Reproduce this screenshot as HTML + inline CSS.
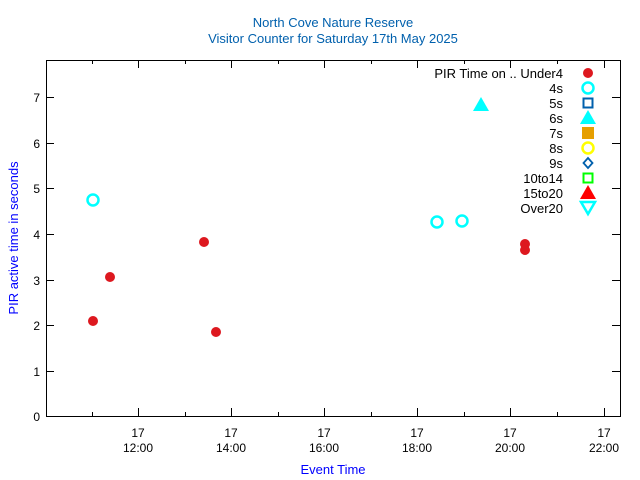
<!DOCTYPE html>
<html><head><style>body{margin:0;background:#fff}svg{display:block}</style></head><body>
<svg width="640" height="480" xmlns="http://www.w3.org/2000/svg" font-family="Liberation Sans, sans-serif" font-size="12">
<rect width="640" height="480" fill="#fff"/>
<text x="333" y="27" text-anchor="middle" fill="#0060ad" font-size="13">North Cove Nature Reserve</text>
<text x="333" y="43" text-anchor="middle" fill="#0060ad" font-size="13">Visitor Counter for Saturday 17th May 2025</text>
<rect x="46.5" y="60.5" width="574" height="356" fill="none" stroke="#000" stroke-width="1"/>
<g stroke="#000" stroke-width="1">
<path d="M46 371.5h8M46 325.5h8M46 280.5h8M46 234.5h8M46 188.5h8M46 143.5h8M46 97.5h8"/>
<path d="M620 371.5h-8M620 325.5h-8M620 280.5h-8M620 234.5h-8M620 188.5h-8M620 143.5h-8M620 97.5h-8"/>
<path d="M138.5 416v-8M231.5 416v-8M324.5 416v-8M417.5 416v-8M510.5 416v-8M604.5 416v-8"/>
<path d="M92.5 416v-4M185.5 416v-4M278.5 416v-4M371.5 416v-4M464.5 416v-4M557.5 416v-4"/>
<path d="M138.5 60v8M231.5 60v8M324.5 60v8M417.5 60v8M510.5 60v8M604.5 60v8"/>
<path d="M92.5 60v4M185.5 60v4M278.5 60v4M371.5 60v4M464.5 60v4M557.5 60v4"/>
</g>
<g text-anchor="end" fill="#000">
<text x="40" y="421">0</text><text x="40" y="376">1</text><text x="40" y="330">2</text><text x="40" y="285">3</text><text x="40" y="239">4</text><text x="40" y="193">5</text><text x="40" y="148">6</text><text x="40" y="102">7</text>
</g>
<g text-anchor="middle" fill="#000">
<text x="138" y="437">17</text><text x="138" y="452">12:00</text>
<text x="231" y="437">17</text><text x="231" y="452">14:00</text>
<text x="324" y="437">17</text><text x="324" y="452">16:00</text>
<text x="417" y="437">17</text><text x="417" y="452">18:00</text>
<text x="510" y="437">17</text><text x="510" y="452">20:00</text>
<text x="604" y="437">17</text><text x="604" y="452">22:00</text>
</g>
<text x="333" y="474" text-anchor="middle" fill="#0000ff" font-size="13">Event Time</text>
<text transform="translate(18,238) rotate(-90)" text-anchor="middle" fill="#0000ff" font-size="13">PIR active time in seconds</text>
<g fill="#dd181f">
<circle cx="93" cy="321" r="5"/><circle cx="110" cy="277" r="5"/><circle cx="204" cy="242" r="5"/><circle cx="216" cy="332" r="5"/><circle cx="525" cy="244" r="5"/><circle cx="525" cy="250" r="5"/>
</g>
<g fill="none" stroke="#00ffff" stroke-width="2.5">
<circle cx="93" cy="200" r="5.5"/><circle cx="437" cy="222" r="5.5"/><circle cx="462" cy="221" r="5.5"/>
</g>
<polygon points="481,97 489,111 473,111" fill="#00ffff"/>
<g text-anchor="end" fill="#000" font-size="13">
<text x="563" y="78">PIR Time on .. Under4</text><text x="563" y="93">4s</text><text x="563" y="108">5s</text><text x="563" y="123">6s</text><text x="563" y="138">7s</text><text x="563" y="153">8s</text><text x="563" y="168">9s</text><text x="563" y="183">10to14</text><text x="563" y="198">15to20</text><text x="563" y="213">Over20</text>
</g>
<circle cx="588" cy="73" r="5" fill="#dd181f"/>
<circle cx="588" cy="88" r="5.5" fill="none" stroke="#00ffff" stroke-width="2.5"/>
<rect x="583.5" y="98.5" width="9" height="9" fill="none" stroke="#0060ad" stroke-width="2"/>
<polygon points="588,110 596,124 580,124" fill="#00ffff"/>
<rect x="582" y="127" width="12" height="12" fill="#e69f00"/>
<circle cx="588" cy="148" r="5.5" fill="none" stroke="#ffff00" stroke-width="2.5"/>
<polygon points="588,158 592.5,163 588,168 583.5,163" fill="none" stroke="#0060ad" stroke-width="1.8"/>
<rect x="583.5" y="173.5" width="9" height="9" fill="none" stroke="#00ff00" stroke-width="2"/>
<polygon points="588,185 596,199 580,199" fill="#ff0000"/>
<polygon points="581,202 595,202 588,214" fill="none" stroke="#00ffff" stroke-width="2.5"/>
</svg>
</body></html>
